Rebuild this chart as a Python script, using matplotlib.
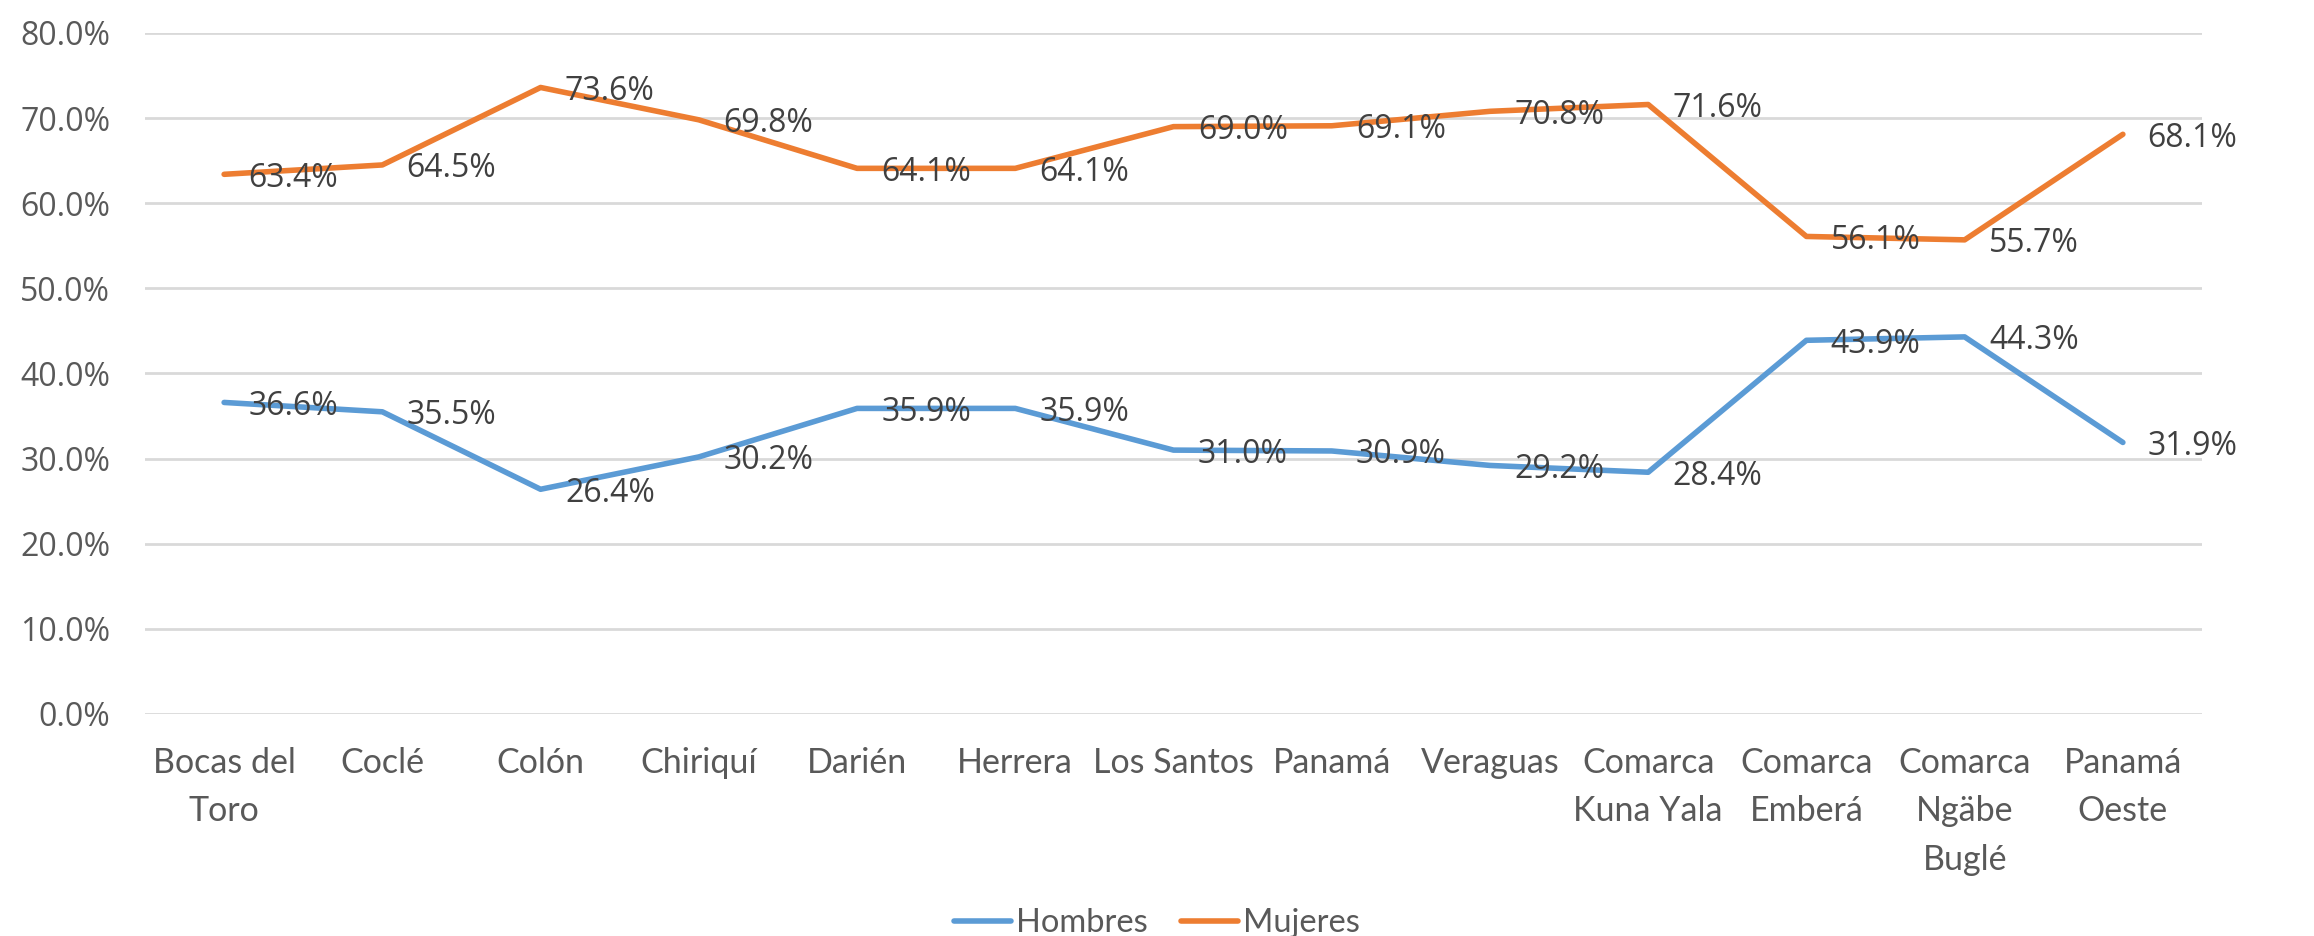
import matplotlib
matplotlib.use("Agg")
import matplotlib.pyplot as plt
from matplotlib.ticker import FuncFormatter

categories = ["Bocas del\nToro", "Coclé", "Colón", "Chiriquí", "Darién", "Herrera",
              "Los Santos", "Panamá", "Veraguas", "Comarca\nKuna Yala",
              "Comarca\nEmberá", "Comarca\nNgäbe\nBuglé", "Panamá\nOeste"]
hombres = [36.6, 35.5, 26.4, 30.2, 35.9, 35.9, 31.0, 30.9, 29.2, 28.4, 43.9, 44.3, 31.9]
mujeres = [63.4, 64.5, 73.6, 69.8, 64.1, 64.1, 69.0, 69.1, 70.8, 71.6, 56.1, 55.7, 68.1]
yticks = [0, 10, 20, 30, 40, 50, 60, 70, 80]

BLUE = "#5B9BD5"
ORANGE = "#ED7D31"
GRID = "#D9D9D9"
TICK = "#595959"
LABEL = "#404040"

fig = plt.figure(figsize=(23.14, 9.36), dpi=100)
ax = fig.add_axes([145/2314, 1-714/936, (2202-145)/2314, (714-33)/936])

x = list(range(len(categories)))
ax.plot(x, hombres, color=BLUE, lw=4.0, solid_capstyle="round", label="Hombres", zorder=3)
ax.plot(x, mujeres, color=ORANGE, lw=4.0, solid_capstyle="round", label="Mujeres", zorder=3)

for series in (hombres, mujeres):
    for xi, v in zip(x, series):
        ax.annotate(f"{v:.1f}%", (xi, v), xytext=(17.5, 0), textcoords="offset points",
                    va="center_baseline", ha="left", fontsize=23, family="Open Sans",
                    color=LABEL, zorder=4)

ax.set_xlim(-0.5, len(categories) - 0.5)
ax.set_ylim(0, 80)
ax.set_yticks(yticks)
ax.yaxis.set_major_formatter(FuncFormatter(lambda v, p: f"{v:.1f}%"))
ax.grid(axis="y", color=GRID, lw=2.0, zorder=0)
ax.set_axisbelow(True)
for s in ax.spines.values():
    s.set_visible(False)
ax.set_xticks(x)
ax.set_xticklabels(categories, fontsize=24.5, color=TICK, family="Lato", linespacing=1.62)
ax.tick_params(axis="x", length=0, pad=24)
ax.tick_params(axis="y", length=0, pad=25, labelsize=23, labelcolor=TICK)
for lab in ax.get_yticklabels():
    lab.set_family("Open Sans")

fig.legend(loc="center", bbox_to_anchor=(0.5, 1-923/936), ncol=2, frameon=False,
           handlelength=1.75, handletextpad=0.15, columnspacing=1.0,
           labelcolor=TICK, prop={"family": "Lato", "size": 23.5})

fig.savefig("out.png", dpi=100)
